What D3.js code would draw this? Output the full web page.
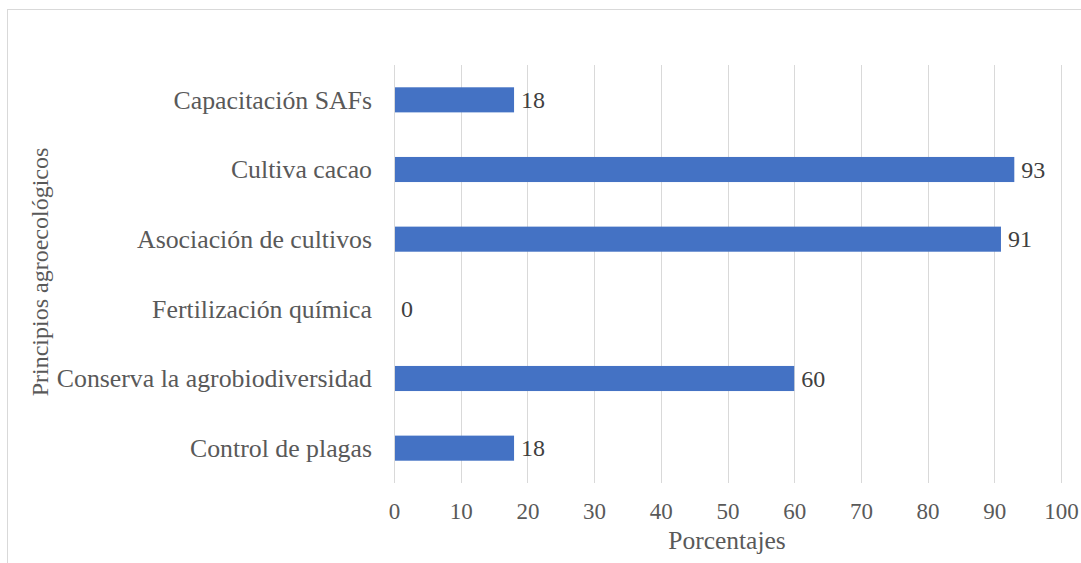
<!DOCTYPE html>
<html>
<head>
<meta charset="utf-8">
<script src="https://cdn.jsdelivr.net/npm/d3@7"></script>
<style>
  html, body { margin: 0; padding: 0; background: #fff; }
  svg { display: block; }
</style>
</head>
<body>
<svg id="chart" width="1081" height="563"></svg>
<script>
const categories = ["Capacitación SAFs", "Cultiva cacao", "Asociación de cultivos", "Fertilización química", "Conserva la agrobiodiversidad", "Control de plagas"];
const values = [18, 93, 91, 0, 60, 18];
const xTicks = [0, 10, 20, 30, 40, 50, 60, 70, 80, 90, 100];
const xTitle = "Porcentajes";
const yTitle = "Principios agroecológicos";

const FONT = "Liberation Serif";
const svg = d3.select("#chart");
const margin = { left: 394, top: 65 };
const plotRight = 1061, plotBottom = 483;

// outer chart border
svg.append("rect")
  .attr("x", 7.5).attr("y", 9.5)
  .attr("width", 1090).attr("height", 570)
  .attr("fill", "none").attr("stroke", "#d9d9d9").attr("stroke-width", 1);

const x = d3.scaleLinear().domain([0, 100]).range([margin.left, plotRight]);
const y = d3.scaleBand().domain(categories).range([margin.top, plotBottom]).paddingInner(0.64).paddingOuter(0.32);

// gridlines
svg.append("g").selectAll("line").data(xTicks).join("line")
  .attr("x1", d => Math.round(x(d)) + 0.5).attr("x2", d => Math.round(x(d)) + 0.5)
  .attr("y1", margin.top).attr("y2", plotBottom)
  .attr("stroke", "#d9d9d9").attr("stroke-width", 1);

// bars
svg.append("g").selectAll("rect").data(values).join("rect")
  .attr("x", x(0))
  .attr("y", (d, i) => y(categories[i]))
  .attr("width", d => x(d) - x(0))
  .attr("height", y.bandwidth())
  .attr("fill", "#4472c4");

// data labels
svg.append("g").selectAll("text").data(values).join("text")
  .attr("x", d => x(d) + 7)
  .attr("y", (d, i) => y(categories[i]) + y.bandwidth() / 2)
  .attr("dy", "0.34em")
  .attr("font-family", FONT)
  .attr("font-size", 24)
  .attr("fill", "#404040")
  .text(d => d);

// x axis labels
const xAxis = d3.axisBottom(x).tickValues(xTicks).tickSize(0);
const gx = svg.append("g").attr("transform", `translate(0,${plotBottom})`).call(xAxis)
  .attr("font-family", FONT).attr("font-size", 23);
gx.select(".domain").remove();
gx.selectAll("text").attr("y", 36).attr("dy", null).attr("fill", "#595959");

// y axis labels
const yAxis = d3.axisLeft(y).tickSize(0).tickPadding(22);
const gy = svg.append("g").attr("transform", `translate(${margin.left},0)`).call(yAxis)
  .attr("font-family", FONT).attr("font-size", 25.8);
gy.select(".domain").remove();
gy.selectAll("text").attr("dy", "0.34em").attr("fill", "#595959");

// left axis line (light)
svg.append("line")
  .attr("x1", margin.left + 0.5).attr("x2", margin.left + 0.5)
  .attr("y1", margin.top).attr("y2", plotBottom)
  .attr("stroke", "#d9d9d9");

// titles
svg.append("text")
  .attr("x", 727).attr("y", 549)
  .attr("text-anchor", "middle").attr("font-family", FONT).attr("font-size", 25.5).attr("fill", "#595959")
  .text(xTitle);

svg.append("text")
  .attr("transform", `translate(48,272) rotate(-90)`)
  .attr("text-anchor", "middle").attr("font-family", FONT).attr("font-size", 24).attr("fill", "#595959")
  .text(yTitle);
</script>
</body>
</html>
